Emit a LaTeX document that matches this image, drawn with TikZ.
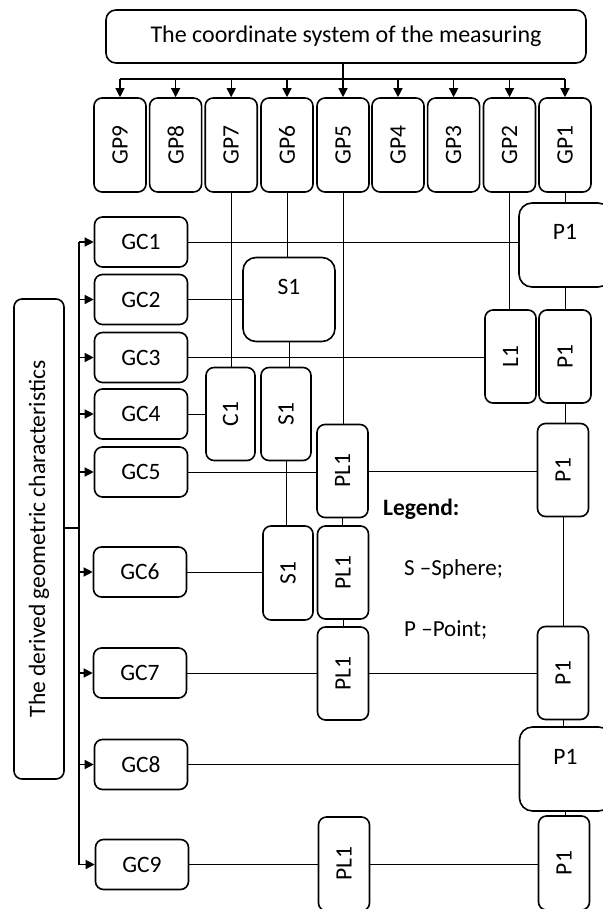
\documentclass[tikz,border=0pt]{standalone}
\usepackage{fontspec}
\setmainfont{Carlito}
\usepackage{graphicx}
\usetikzlibrary{arrows.meta}
\newcommand{\vtext}[1]{\rotatebox{90}{#1}}
\tikzset{
  basebox/.style={draw=black, line width=1.6pt, rounded corners=8pt, inner sep=0pt, align=center, font=\fontsize{23.5}{28}\selectfont},
  gpbox/.style={basebox, minimum width=52pt, minimum height=94pt},
  gcbox/.style={basebox, minimum width=93pt, minimum height=50pt},
  elembox/.style={basebox, minimum width=51pt, minimum height=93pt},
  bigbox/.style={basebox, rounded corners=13pt, minimum width=92pt, minimum height=84pt, text height=37pt, text depth=47pt},
  line/.style={draw=black, line width=1pt},
  arrow/.style={-{Triangle[length=9pt,width=9pt]}, draw=black, line width=1.3pt},
  legendtext/.style={anchor=west, inner sep=0pt, font=\fontsize{23}{28}\selectfont}
}
\begin{document}
\begin{tikzpicture}[x=1pt,y=-1pt]
  \useasboundingbox[fill=white] (0,0) rectangle (602,909);
  \node[basebox, rounded corners=10pt, minimum width=480pt, minimum height=53pt, font=\fontsize{24}{29}\selectfont] (top) at (346,36.5) {The coordinate system of the measuring};
  \node[gpbox] (gp9) at (120,145) {\vtext{GP9}};
  \node[gpbox] (gp8) at (175.6,145) {\vtext{GP8}};
  \node[gpbox] (gp7) at (231.2,145) {\vtext{GP7}};
  \node[gpbox] (gp6) at (287,145) {\vtext{GP6}};
  \node[gpbox] (gp5) at (343,145) {\vtext{GP5}};
  \node[gpbox] (gp4) at (398,145) {\vtext{GP4}};
  \node[gpbox] (gp3) at (453.6,145) {\vtext{GP3}};
  \node[gpbox] (gp2) at (509.5,145) {\vtext{GP2}};
  \node[gpbox] (gp1) at (565,145) {\vtext{GP1}};
  \coordinate (bus) at (0,79);
  \draw[line, line width=1.3pt] (gp9 |- bus) -- (gp1 |- bus);
  \draw[line, line width=1.3pt] (top.south -| gp5) -- (gp5 |- bus);
  \foreach \i in {1,...,9}
    \draw[arrow] (gp\i |- bus) -- (gp\i.north);

  \node[basebox, minimum width=50pt, minimum height=480pt] (derived) at (39,539) {\vtext{The derived geometric characteristics}};
  \node[gcbox] (gc1) at (141,242) {GC1};
  \node[gcbox] (gc2) at (141,299.5) {GC2};
  \node[gcbox] (gc3) at (141,357.5) {GC3};
  \node[gcbox] (gc4) at (141,414) {GC4};
  \node[gcbox] (gc5) at (141,472) {GC5};
  \node[gcbox] (gc6) at (140,572) {GC6};
  \node[gcbox] (gc7) at (140,673) {GC7};
  \node[gcbox] (gc8) at (141,764.5) {GC8};
  \node[gcbox] (gc9) at (142,864.5) {GC9};
  \coordinate (lbus) at (79,0);
  \draw[line, line width=1.3pt] (lbus |- gc1) -- (lbus |- gc9);
  \draw[line, line width=1.3pt] (derived.east |- 0,528) -- (lbus |- 0,528);
  \foreach \i in {1,...,9}
    \draw[arrow] (lbus |- gc\i) -- (gc\i.west);

  \node[bigbox] (s1a) at (289,299.5) {S1};
  \node[elembox, minimum width=49pt] (c1) at (230.5,414) {\vtext{C1}};
  \node[elembox, minimum width=50pt] (s1b) at (286,414) {\vtext{S1}};
  \node[elembox, minimum width=50pt, minimum height=94pt] (s1c) at (288,573) {\vtext{S1}};
  \node[elembox] (l1) at (510.5,356.5) {\vtext{L1}};
  \node[elembox] (pl1a) at (342.5,471) {\vtext{PL1}};
  \node[elembox] (pl1b) at (343,572.5) {\vtext{PL1}};
  \node[elembox] (pl1c) at (343,673.5) {\vtext{PL1}};
  \node[elembox, minimum height=94pt] (pl1d) at (344,864) {\vtext{PL1}};
  \node[bigbox] (p1a) at (565,245) {P1};
  \node[elembox, minimum width=52pt] (p1b) at (565,356.5) {\vtext{P1}};
  \node[elembox] (p1c) at (563,470) {\vtext{P1}};
  \node[elembox] (p1d) at (563,673) {\vtext{P1}};
  \node[bigbox] (p1e) at (565.5,769) {P1};
  \node[elembox, minimum height=94pt] (p1f) at (564,863) {\vtext{P1}};

  \draw[line] (gp7.south) -- (gp7.south |- c1.north);
  \draw[line] (gp6.south) -- (gp6.south |- s1a.north);
  \draw[line] (gp5.south) -- (gp5.south |- pl1a.north);
  \draw[line] (gp2.south) -- (gp2.south |- l1.north);
  \draw[line] (gp1.south) -- (gp1.south |- p1a.north);
  \draw[line] (gc1.east) -- (gc1.east -| p1a.west);
  \draw[line] (gc2.east) -- (gc2.east -| s1a.west);
  \draw[line] (gc3.east) -- (gc3.east -| l1.west);
  \draw[line] (gc4.east) -- (gc4.east -| c1.west);
  \draw[line] (gc5.east) -- (gc5.east -| pl1a.west);
  \draw[line] (pl1a.east) -- (pl1a.east -| p1c.west);
  \draw[line] (gc6.east) -- (gc6.east -| s1c.west);
  \draw[line] (gc7.east) -- (gc7.east -| pl1c.west);
  \draw[line] (pl1c.east) -- (pl1c.east -| p1d.west);
  \draw[line] (gc8.east) -- (gc8.east -| p1e.west);
  \draw[line] (gc9.east) -- (gc9.east -| pl1d.west);
  \draw[line] (pl1d.east) -- (pl1d.east -| p1f.west);
  \draw[line] (s1a.south) -- (s1a.south |- s1b.north);
  \draw[line] (s1b.south) -- (s1b.south |- s1c.north);
  \draw[line] (pl1a.south) -- (pl1a.south |- pl1b.north);
  \draw[line] (pl1b.south) -- (pl1b.south |- pl1c.north);
  \draw[line] (p1a.south) -- (p1a.south |- p1b.north);
  \draw[line] (p1b.south) -- (p1b.south |- p1c.north);
  \draw[line] (p1c.south) -- (p1c.south |- p1d.north);
  \draw[line] (p1d.south) -- (p1d.south |- p1e.north);
  \draw[line] (p1e.south) -- (p1e.south |- p1f.north);

  \node[legendtext, font=\fontsize{23.5}{28}\selectfont\bfseries] (legend) at (383,509) {Legend:};
  \node[legendtext] (sphere) at (404,569) {S –Sphere;};
  \node[legendtext] (point) at (404,630) {P –Point;};
\end{tikzpicture}
\end{document}
